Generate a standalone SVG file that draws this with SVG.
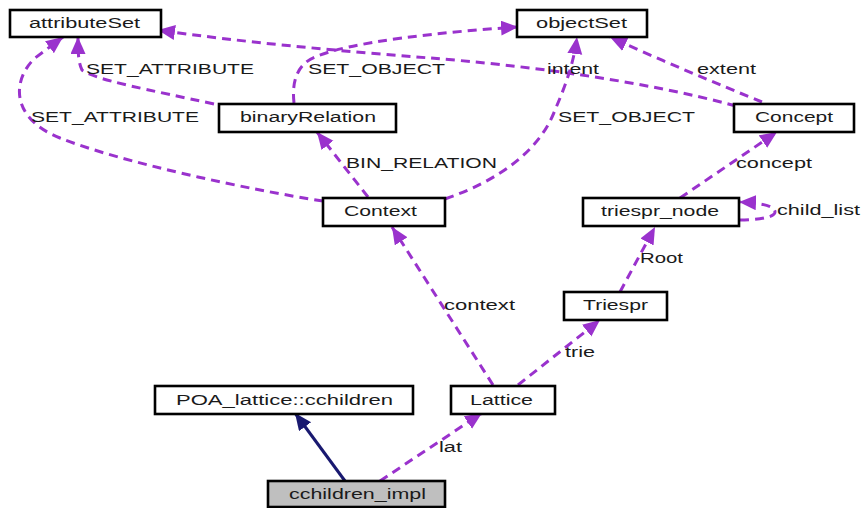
<svg xmlns="http://www.w3.org/2000/svg" width="862" height="508" viewBox="0 0 862 508">
  <style>
    .box { fill: #ffffff; stroke: #000000; stroke-width: 2.6; }
    .focus { fill: #bfbfbf; }
    .lbl { font-family: "Liberation Sans", Arial, sans-serif; font-size: 14px; fill: #1a1a1a; }
    .use { fill: none; stroke: #9a32cd; stroke-width: 3; stroke-dasharray: 9,6; }
    .inh { fill: none; stroke: #191970; stroke-width: 3; }
  </style>
  <defs>
    <marker id="headUse" markerUnits="userSpaceOnUse" markerWidth="18" markerHeight="16" refX="17" refY="7.5" orient="auto">
      <path d="M0,0 L17,7.5 L0,15 z" fill="#9a32cd"/>
    </marker>
    <marker id="headInh" markerUnits="userSpaceOnUse" markerWidth="18" markerHeight="16" refX="17" refY="7.5" orient="auto">
      <path d="M0,0 L17,7.5 L0,15 z" fill="#191970"/>
    </marker>
  </defs>

  <g id="connectors">
    <!-- Context -> attributeSet -->
    <path class="use" marker-end="url(#headUse)" d="M323,201 C250,190 120,162 60,138 C10,118 12,80 35,58 L63,37"/>
    <text class="lbl" x="31" y="122" textLength="168" lengthAdjust="spacingAndGlyphs">SET_ATTRIBUTE</text>
    <!-- binaryRelation -> attributeSet -->
    <path class="use" marker-end="url(#headUse)" d="M214,104 C150,90 95,80 82,70 C78,62 78,50 78,37"/>
    <text class="lbl" x="86" y="74" textLength="168" lengthAdjust="spacingAndGlyphs">SET_ATTRIBUTE</text>
    <!-- Concept -> attributeSet -->
    <path class="use" marker-end="url(#headUse)" d="M736,106 C640,80 520,65 430,58 S240,42 158,30"/>
    <text class="lbl" x="547" y="74" textLength="52" lengthAdjust="spacingAndGlyphs">intent</text>
    <!-- binaryRelation -> objectSet -->
    <path class="use" marker-end="url(#headUse)" d="M294,103 C292,85 295,65 315,57 C350,42 440,32 518,27"/>
    <text class="lbl" x="308" y="74" textLength="137" lengthAdjust="spacingAndGlyphs">SET_OBJECT</text>
    <!-- Context -> objectSet -->
    <path class="use" marker-end="url(#headUse)" d="M445,199 C500,180 540,150 555,110 C568,80 574,60 577,37"/>
    <text class="lbl" x="558" y="122" textLength="137" lengthAdjust="spacingAndGlyphs">SET_OBJECT</text>
    <!-- Concept -> objectSet -->
    <path class="use" marker-end="url(#headUse)" d="M762,102 C720,85 660,60 610,37"/>
    <text class="lbl" x="697" y="74" textLength="59" lengthAdjust="spacingAndGlyphs">extent</text>
    <!-- Context -> binaryRelation -->
    <path class="use" marker-end="url(#headUse)" d="M368,197 L317,132"/>
    <text class="lbl" x="346" y="168" textLength="151" lengthAdjust="spacingAndGlyphs">BIN_RELATION</text>
    <!-- triespr_node -> Concept -->
    <path class="use" marker-end="url(#headUse)" d="M680,198 L777,132"/>
    <text class="lbl" x="736" y="168" textLength="76" lengthAdjust="spacingAndGlyphs">concept</text>
    <!-- triespr_node -> triespr_node -->
    <path class="use" marker-end="url(#headUse)" d="M740,220 C755,220 775,218 775,212 C775,206 762,203 739,202"/>
    <text class="lbl" x="777" y="215" textLength="83" lengthAdjust="spacingAndGlyphs">child_list</text>
    <!-- Triespr -> triespr_node -->
    <path class="use" marker-end="url(#headUse)" d="M620,292 L655,227"/>
    <text class="lbl" x="640" y="263" textLength="43" lengthAdjust="spacingAndGlyphs">Root</text>
    <!-- Lattice -> Triespr -->
    <path class="use" marker-end="url(#headUse)" d="M518,385 L600,320"/>
    <text class="lbl" x="565" y="357" textLength="30" lengthAdjust="spacingAndGlyphs">trie</text>
    <!-- Lattice -> Context -->
    <path class="use" marker-end="url(#headUse)" d="M493,385 L392,227"/>
    <text class="lbl" x="444" y="310" textLength="71" lengthAdjust="spacingAndGlyphs">context</text>
    <!-- cchildren_impl -> Lattice -->
    <path class="use" marker-end="url(#headUse)" d="M380,481 L482,413"/>
    <text class="lbl" x="439" y="452" textLength="23" lengthAdjust="spacingAndGlyphs">lat</text>
    <!-- cchildren_impl inherits POA_lattice::cchildren -->
    <path class="inh" marker-end="url(#headInh)" d="M345,481 L295,413"/>
  </g>

  <g id="attributeSet">
    <rect class="box" x="10" y="10" width="151" height="27"/>
    <text class="lbl" x="29" y="28" textLength="111" lengthAdjust="spacingAndGlyphs">attributeSet</text>
  </g>
  <g id="objectSet">
    <rect class="box" x="517" y="10" width="130" height="27"/>
    <text class="lbl" x="536" y="28" textLength="91" lengthAdjust="spacingAndGlyphs">objectSet</text>
  </g>
  <g id="binaryRelation">
    <rect class="box" x="219" y="104" width="177" height="28"/>
    <text class="lbl" x="240" y="122" textLength="136" lengthAdjust="spacingAndGlyphs">binaryRelation</text>
  </g>
  <g id="Concept">
    <rect class="box" x="734" y="104" width="120" height="28"/>
    <text class="lbl" x="755" y="122" textLength="78" lengthAdjust="spacingAndGlyphs">Concept</text>
  </g>
  <g id="Context">
    <rect class="box" x="323" y="198" width="122" height="28"/>
    <text class="lbl" x="344" y="216" textLength="73" lengthAdjust="spacingAndGlyphs">Context</text>
  </g>
  <g id="triespr_node">
    <rect class="box" x="583" y="198" width="156" height="28"/>
    <text class="lbl" x="601" y="216" textLength="118" lengthAdjust="spacingAndGlyphs">triespr_node</text>
  </g>
  <g id="Triespr">
    <rect class="box" x="564" y="292" width="103" height="28"/>
    <text class="lbl" x="583" y="310" textLength="65" lengthAdjust="spacingAndGlyphs">Triespr</text>
  </g>
  <g id="POA_lattice_cchildren">
    <rect class="box" x="155" y="386" width="258" height="28"/>
    <text class="lbl" x="176" y="405" textLength="217" lengthAdjust="spacingAndGlyphs">POA_lattice::cchildren</text>
  </g>
  <g id="Lattice">
    <rect class="box" x="451" y="386" width="104" height="28"/>
    <text class="lbl" x="470" y="405" textLength="63" lengthAdjust="spacingAndGlyphs">Lattice</text>
  </g>
  <g id="cchildren_impl">
    <rect class="box focus" x="268" y="481" width="177" height="26"/>
    <text class="lbl" x="289" y="499" textLength="137" lengthAdjust="spacingAndGlyphs">cchildren_impl</text>
  </g>
</svg>
